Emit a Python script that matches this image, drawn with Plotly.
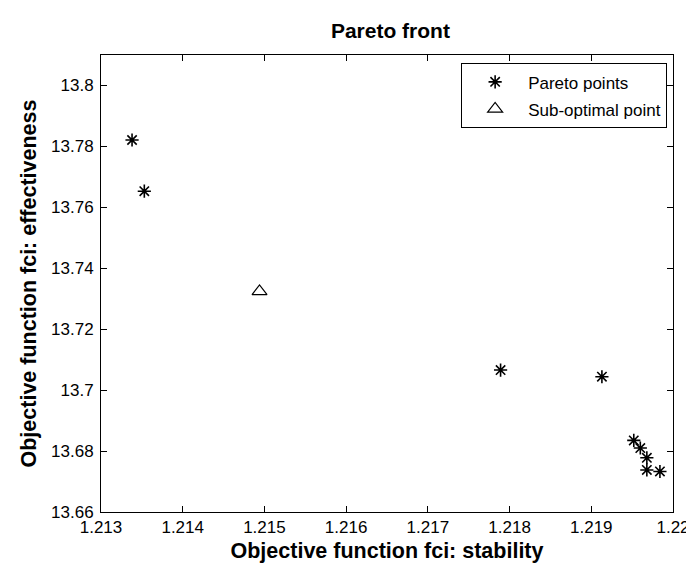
import plotly.graph_objects as go

# Data
pareto_x = [1.21338, 1.21353, 1.21789, 1.21913, 1.21952, 1.21960, 1.21968, 1.21968, 1.21984]
pareto_y = [13.7821, 13.7653, 13.7066, 13.7044, 13.6835, 13.6810, 13.6778, 13.6738, 13.6733]
sub_x = [1.21494]
sub_y = [13.7324]

x_ticks = [1.213, 1.214, 1.215, 1.216, 1.217, 1.218, 1.219, 1.22]
x_tick_text = ["1.213", "1.214", "1.215", "1.216", "1.217", "1.218", "1.219", "1.22"]
y_ticks = [13.66, 13.68, 13.70, 13.72, 13.74, 13.76, 13.78, 13.80]
y_tick_text = ["13.66", "13.68", "13.7", "13.72", "13.74", "13.76", "13.78", "13.8"]

FONT = "Arial, 'Liberation Sans', Helvetica, sans-serif"

fig = go.Figure()
fig.add_trace(go.Scatter(
    x=pareto_x, y=pareto_y, mode="markers", name="Pareto points",
    legendgroup="a",
    marker=dict(symbol="asterisk-open", size=11, color="black",
                line=dict(color="black", width=1.6)),
))
fig.add_trace(go.Scatter(
    x=sub_x, y=sub_y, mode="markers", name="Sub-optimal point",
    legendgroup="b",
    marker=dict(symbol="triangle-up-open", size=13, color="black",
                line=dict(color="black", width=1.2)),
))

axis_common = dict(
    showline=True, linecolor="black", linewidth=1, mirror="allticks",
    ticks="inside", ticklen=6, tickwidth=1, tickcolor="black",
    showgrid=False, zeroline=False,
    tickfont=dict(family=FONT, size=17, color="black"),
)

fig.update_layout(
    width=694, height=563,
    margin=dict(l=93, r=18, t=47, b=59),
    paper_bgcolor="white", plot_bgcolor="white",
    font=dict(family=FONT, color="black"),
    title=dict(text="<b>Pareto front</b>", x=0.551, xanchor="center",
               y=1 - 23 / 563, yanchor="middle", yref="container",
               font=dict(family=FONT, size=21, color="black")),
    xaxis=dict(range=[1.213, 1.22], tickvals=x_ticks, ticktext=x_tick_text,
               title=dict(text="<b>Objective function fci: stability</b>",
                          font=dict(family=FONT, size=21.5, color="black"), standoff=6),
               **axis_common),
    yaxis=dict(range=[13.66, 13.81], tickvals=y_ticks, ticktext=y_tick_text,
               ticklabelstandoff=3,
               title=dict(text="<b>Objective function fci: effectiveness</b>",
                          font=dict(family=FONT, size=21.5, color="black"), standoff=8),
               **axis_common),
    legend=dict(x=0.6296, y=0.9818, xanchor="left", yanchor="top",
                bgcolor="white", bordercolor="black", borderwidth=1,
                font=dict(family=FONT, size=17, color="black"),
                itemwidth=56, traceorder="grouped", tracegroupgap=2),
    showlegend=True,
)

fig.write_html("out.html")
